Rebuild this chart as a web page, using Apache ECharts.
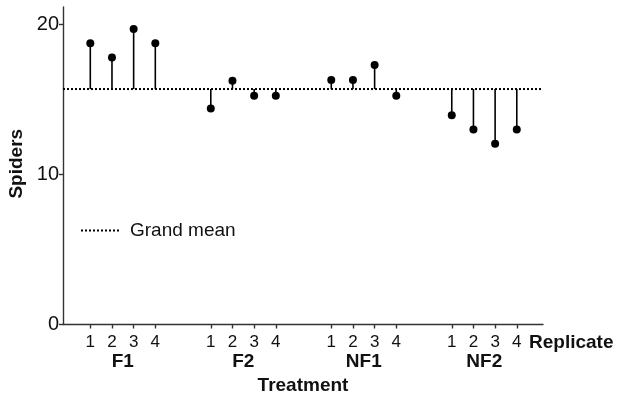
<!DOCTYPE html>
<html>
<head>
<meta charset="utf-8">
<script src="https://cdn.jsdelivr.net/npm/echarts@6/dist/echarts.min.js"></script>
<style>
  html, body { margin: 0; padding: 0; background: #fff; }
  #chart { width: 621px; height: 396px; }
</style>
</head>
<body>
<div id="chart"></div>
<script>
// Spider counts per replicate within each treatment
const treatments = ['F1', 'F2', 'NF1', 'NF2'];
const replicates = ['1', '2', '3', '4'];
const spidersF1 = [18.75, 17.8, 19.7, 18.75];
const spidersF2 = [14.4, 16.25, 15.25, 15.25];
const spidersNF1 = [16.3, 16.3, 17.3, 15.25];
const spidersNF2 = [13.95, 13.0, 12.05, 13.0];
const grandMean = 15.7;
const yTicks = [0, 10, 20];

// Horizontal layout of the grouped replicate positions (axis units)
const xStart = 1.26;
const groupStep = 5.56;
const xMax = 22.15;

const groups = [spidersF1, spidersF2, spidersNF1, spidersNF2];
const points = [];
const tickPos = [];
const tickText = {};
groups.forEach((vals, g) => {
  vals.forEach((v, r) => {
    const x = +(xStart + g * groupStep + r).toFixed(4);
    points.push([x, v]);
    tickPos.push(x);
    tickText[x.toFixed(4)] = replicates[r];
  });
});
const groupPos = treatments.map((t, g) => +(xStart + g * groupStep + 1.5).toFixed(4));
const groupText = {};
groupPos.forEach((x, g) => { groupText[x.toFixed(4)] = treatments[g]; });

const FONT = 'Liberation Sans';
const chart = echarts.init(document.getElementById('chart'), null, { renderer: 'canvas' });

chart.setOption({
  backgroundColor: '#fff',
  animation: false,
  textStyle: { fontFamily: FONT },
  grid: { left: 63, right: 78, top: 7, bottom: 71.5, containLabel: false, outerBoundsMode: 'none' },
  legend: {
    left: 75,
    top: 216,
    itemWidth: 38,
    itemHeight: 10,
    data: ['Grand mean'],
    itemStyle: { opacity: 0 },
    lineStyle: { color: '#000', width: 2, type: [2, 2] },
    textStyle: { fontFamily: FONT, fontSize: 19, color: '#111', padding: [0, 0, 0, 6] }
  },
  xAxis: [
    {
      type: 'value',
      min: 0,
      max: xMax,
      position: 'bottom',
      splitLine: { show: false },
      axisLine: { show: true, onZero: false, lineStyle: { color: '#333', width: 1.4 } },
      axisTick: { show: true, customValues: tickPos, length: 4, lineStyle: { color: '#333', width: 1.4 } },
      axisLabel: {
        customValues: tickPos,
        margin: 9.5,
        fontFamily: FONT,
        fontSize: 17,
        color: '#111',
        formatter: v => tickText[(+v).toFixed(4)] || ''
      },
      name: 'Replicate',
      nameLocation: 'end',
      nameGap: -14,
      nameTextStyle: {
        fontFamily: FONT, fontSize: 19, fontWeight: 'bold', color: '#111',
        verticalAlign: 'top', padding: [8.5, 0, 0, 0]
      }
    },
    {
      type: 'value',
      min: 0,
      max: xMax,
      position: 'bottom',
      gridIndex: 0,
      splitLine: { show: false },
      axisLine: { show: false },
      axisTick: { show: false },
      axisLabel: {
        customValues: groupPos,
        margin: 27.5,
        fontFamily: FONT,
        fontSize: 19,
        fontWeight: 'bold',
        color: '#111',
        formatter: v => groupText[(+v).toFixed(4)] || ''
      },
      name: 'Treatment',
      nameLocation: 'middle',
      nameGap: 42,
      nameTextStyle: { fontFamily: FONT, fontSize: 19, fontWeight: 'bold', color: '#111' }
    }
  ],
  yAxis: {
    type: 'value',
    min: 0,
    max: 21.17,
    splitLine: { show: false },
    axisLine: { show: true, lineStyle: { color: '#333', width: 1.4 } },
    axisTick: { show: true, customValues: yTicks, length: 4, lineStyle: { color: '#333', width: 1.4 } },
    axisLabel: { customValues: yTicks, margin: 4, fontFamily: FONT, fontSize: 20, color: '#111' },
    name: 'Spiders',
    nameLocation: 'middle',
    nameGap: 31,
    nameRotate: 90,
    nameTextStyle: { fontFamily: FONT, fontSize: 19, fontWeight: 'bold', color: '#111', padding: [0, 0, 0, 4] }
  },
  series: [
    {
      // vertical stems from the grand mean to each replicate count
      type: 'custom',
      name: 'stems',
      xAxisIndex: 0,
      data: points,
      renderItem: (params, api) => {
        const top = api.coord([api.value(0), api.value(1)]);
        const base = api.coord([api.value(0), grandMean]);
        return {
          type: 'line',
          shape: { x1: top[0], y1: top[1], x2: base[0], y2: base[1] },
          style: { stroke: '#000', lineWidth: 1.6 }
        };
      },
      z: 2
    },
    {
      type: 'line',
      name: 'Grand mean',
      xAxisIndex: 0,
      data: [[0, grandMean], [xMax, grandMean]],
      symbol: 'none',
      color: '#000',
      lineStyle: { color: '#000', width: 2, type: [2, 2] },
      z: 3
    },
    {
      type: 'scatter',
      name: 'replicates',
      xAxisIndex: 0,
      data: points,
      symbol: 'circle',
      symbolSize: 8,
      itemStyle: { color: '#000', opacity: 1 },
      z: 4
    }
  ]
});
</script>
</body>
</html>
